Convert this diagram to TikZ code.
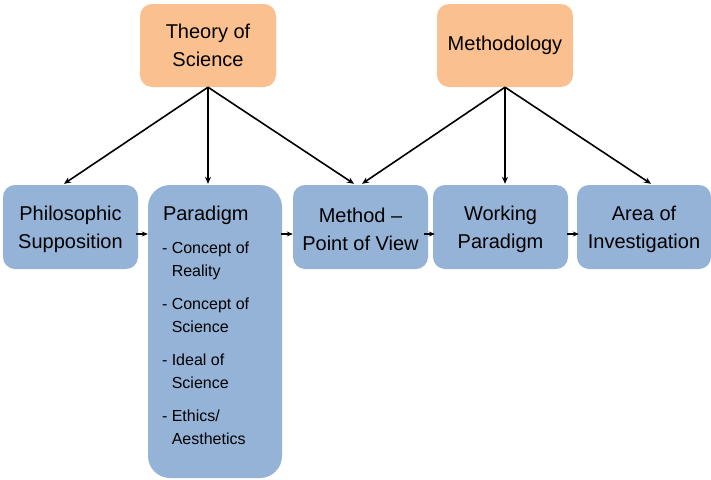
\documentclass[tikz,border=0pt]{standalone}
\usepackage{fontspec}
\setmainfont{Liberation Sans}
\usetikzlibrary{arrows.meta,calc}
\definecolor{boxblue}{RGB}{149,179,215}
\definecolor{boxorange}{RGB}{250,192,143}
\begin{document}
\begin{tikzpicture}[x=1pt,y=-1pt,
  box/.style={fill=boxblue, draw=none, rounded corners=12pt,
    minimum width=135pt, minimum height=84pt, align=center, inner sep=2pt,
    font=\fontsize{20}{28}\selectfont},
  topbox/.style={box, fill=boxorange, minimum width=136pt, minimum height=83pt},
  arr/.style={-{Stealth[length=7pt,width=6pt]}, line width=1.6pt, black},
  harr/.style={-{Stealth[length=6pt,width=5pt]}, line width=1.6pt, black},
  listtext/.style={inner sep=0pt, align=left, font=\fontsize{16}{23}\selectfont}]
\useasboundingbox (0,0) rectangle (711,479);

% top level
\node[topbox] (theory) at (208,45.5) {Theory of\\Science};
\node[topbox] (methodology) at (505,45.5) {Methodology};

% second level
\node[box] (philo) at (70.5,227) {\rule{0pt}{19pt}Philosophic\\Supposition};
\node[box, minimum width=134pt, minimum height=293pt, rounded corners=22pt] (paradigm) at (215,331.5) {};
\node[box] (method) at (360.5,227) {\rule{0pt}{19pt}Method –\\Point of View};
\node[box] (working) at (500.5,227) {\rule{0pt}{19pt}Working\\Paradigm};
\node[box, minimum width=134pt] (area) at (644,227) {\rule{0pt}{19pt}Area of\\Investigation};

% contents of the paradigm box
\node[anchor=base west, inner sep=0pt, font=\fontsize{20}{28}\selectfont] (paratitle)
  at ([shift={(15,36)}]paradigm.north west) {Paradigm};
\node[listtext, anchor=north west] (paralist) at ([shift={(14,57.3)}]paradigm.north west)
  {- Concept of\\\phantom{- }Reality\\[10pt]%
   - Concept of\\\phantom{- }Science\\[10pt]%
   - Ideal of\\\phantom{- }Science\\[10pt]%
   - Ethics/\\\phantom{- }Aesthetics};

% arrows from the top boxes
\draw[arr] (theory.south) -- ($(philo.north)+(-6.5,-1)$);
\draw[arr] (theory.south) -- ($(paradigm.north)+(-7,-1)$);
\draw[arr] (theory.south) -- ($(method.north)+(-6.5,-1)$);
\draw[arr] (methodology.south) -- ($(method.north)+(1.5,-1)$);
\draw[arr] (methodology.south) -- ($(working.north)+(4.5,-1)$);
\draw[arr] (methodology.south) -- ($(area.north)+(7,-1)$);

% short arrows along the second level
\draw[harr] ($(philo.east)+(-2,7)$) -- ($(philo.east -| paradigm.west)+(0,7)$);
\draw[harr] ($(paradigm.east |- method.west)+(-1,7)$) -- ($(method.west)+(0,7)$);
\draw[harr] ($(method.east)+(-4,7)$) -- ($(working.west)+(2,7)$);
\draw[harr] ($(working.east)+(-1,7)$) -- ($(area.west)+(2,7)$);
\end{tikzpicture}
\end{document}
